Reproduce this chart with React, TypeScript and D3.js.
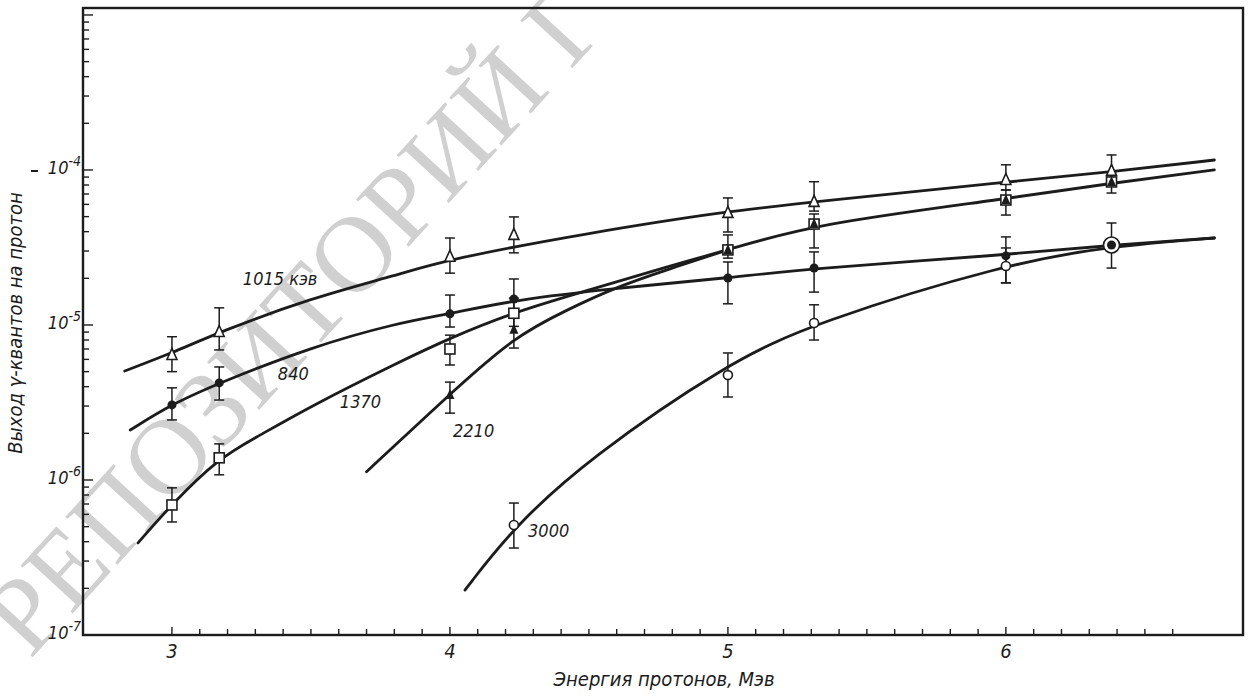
import React, { useEffect, useRef } from "react";
import * as d3 from "d3";

const WIDTH = 1254;
const HEIGHT = 697;

// measured points: proton energy (MeV), yield per proton, error bar ends
const x1015 = [3.0, 3.17, 4.0, 4.23, 5.0, 5.31, 6.0, 6.38];
const y1015 = [6.4e-6, 9.0e-6, 2.75e-5, 3.81e-5, 5.28e-5, 6.22e-5, 8.6e-5, 9.86e-5];
const hi1015 = [8.4e-6, 1.29e-5, 3.64e-5, 4.98e-5, 6.6e-5, 8.4e-5, 1.08e-4, 1.25e-4];
const lo1015 = [5.0e-6, 6.9e-6, 2.16e-5, 2.92e-5, 3.98e-5, 5.43e-5, 7.43e-5, 8.4e-5];

const x840 = [3.0, 3.17, 4.0, 4.23, 5.0, 5.31, 6.0, 6.38];
const y840 = [3.05e-6, 4.23e-6, 1.18e-5, 1.47e-5, 2.01e-5, 2.33e-5, 2.79e-5, 3.28e-5];
const hi840 = [3.93e-6, 5.36e-6, 1.56e-5, 1.98e-5, 2.55e-5, 2.96e-5, 3.7e-5, 4.55e-5];
const lo840 = [2.44e-6, 3.28e-6, 9.7e-6, 1.11e-5, 1.37e-5, 1.63e-5, 1.87e-5, 2.33e-5];

const x1370 = [3.0, 3.17, 4.0, 4.23, 5.0, 5.31, 6.0, 6.38];
const y1370 = [6.9e-7, 1.39e-6, 7.0e-6, 1.19e-5, 3.05e-5, 4.48e-5, 6.4e-5, 8.37e-5];
const hi1370 = [8.9e-7, 1.71e-6, 8.6e-6, 1.49e-5, 3.81e-5, 5.2e-5, 7.43e-5, 9.7e-5];
const lo1370 = [5.36e-7, 1.08e-6, 5.52e-6, 9.8e-6, 2.7e-5, 3.14e-5, 5.12e-5, 7.1e-5];

const x2210 = [4.0, 4.23, 5.0, 5.31, 6.0, 6.38];
const y2210 = [3.53e-6, 9.3e-6, 3.05e-5, 4.48e-5, 6.4e-5, 8.37e-5];
const hi2210 = [4.28e-6, 1.16e-5, null, null, null, null];
const lo2210 = [2.7e-6, 7.1e-6, null, null, null, null];

const x3000 = [4.23, 5.0, 5.31, 6.0, 6.38];
const y3000 = [5.13e-7, 4.75e-6, 1.03e-5, 2.4e-5, 3.28e-5];
const hi3000 = [7.1e-7, 6.6e-6, 1.35e-5, 3.14e-5, null];
const lo3000 = [3.64e-7, 3.43e-6, 8.0e-6, 1.87e-5, null];

// hand-drawn fitted curves
const c1015x = [2.83, 3.0, 3.17, 3.5, 3.81, 4.0, 4.5, 5.0, 5.31, 6.0, 6.38, 6.75];
const c1015y = [5.05e-6, 6.59e-6, 9.0e-6, 1.49e-5, 2.1e-5, 2.67e-5, 3.93e-5, 5.43e-5, 6.22e-5, 8.37e-5, 9.7e-5, 1.16e-4];
const c840x = [2.85, 3.0, 3.17, 3.5, 3.81, 4.0, 4.23, 4.6, 5.0, 5.31, 6.0, 6.38, 6.75];
const c840y = [2.1e-6, 3.09e-6, 4.23e-6, 7.2e-6, 1.03e-5, 1.18e-5, 1.45e-5, 1.73e-5, 2.01e-5, 2.33e-5, 2.83e-5, 3.28e-5, 3.64e-5];
const c1370x = [2.878, 3.0, 3.17, 3.3, 3.5, 3.81, 4.0, 4.23, 4.5, 4.78, 5.0, 5.31, 6.0, 6.38, 6.75];
const c1370y = [3.93e-7, 7.0e-7, 1.39e-6, 1.87e-6, 3.0e-6, 5.69e-6, 8.24e-6, 1.21e-5, 1.68e-5, 2.37e-5, 3.05e-5, 4.48e-5, 6.5e-5, 8.24e-5, 1.0e-4];
const c2210x = [3.7, 4.0, 4.23, 4.42, 4.6, 4.78, 5.0];
const c2210y = [1.13e-6, 3.59e-6, 8.37e-6, 1.25e-5, 1.76e-5, 2.27e-5, 3.05e-5];
const c3000x = [4.054, 4.23, 4.5, 5.0, 5.31, 6.0, 6.38, 6.75];
const c3000y = [1.95e-7, 4.98e-7, 1.38e-6, 5.69e-6, 1.03e-5, 2.48e-5, 3.23e-5, 3.64e-5];

const curveLabels = ["1015 кэв", "840", "1370", "2210", "3000"];
const labelX = [3.255, 3.381, 3.604, 4.011, 4.281];
const labelY = [1.81e-5, 4.4e-6, 2.92e-6, 1.89e-6, 4.28e-7];

const xTickLabels = [3, 4, 5, 6];
const yTickDecades = [-7, -6, -5, -4];

const FONT = "'DejaVu Sans Condensed', 'Liberation Sans Narrow', 'DejaVu Sans', sans-serif";
const INK = "#1c1c1c";

const zip = (xs, ys, lo?, hi?) =>
  xs.map((v, i) => ({ x: v, y: ys[i], lo: lo ? lo[i] : null, hi: hi ? hi[i] : null }));

export default function App() {
  const svgRef = useRef<SVGSVGElement>(null);

  useEffect(() => {
    const svg = d3.select(svgRef.current);
    svg.selectAll("*").remove();

    const left = 83, right = 1243, top = 8, bottom = 635;
    const x = d3.scaleLinear().domain([2.68, 6.853]).range([left, right]);
    const y = d3.scaleLog().domain([1e-7, Math.pow(10, -2.955)]).range([bottom, top]);

    // scan watermark
    svg.append("text")
      .attr("transform", "translate(30,660) rotate(-47.5)")
      .attr("font-family", "'Liberation Serif', 'DejaVu Serif', serif")
      .attr("font-size", 108)
      .attr("fill", "#d0d0d0")
      .text("РЕПОЗИТОРИЙ Г");

    // frame
    svg.append("rect")
      .attr("x", left).attr("y", top)
      .attr("width", right - left).attr("height", bottom - top)
      .attr("fill", "none").attr("stroke", INK).attr("stroke-width", 2.4);

    // x ticks every 0.1 MeV, pointing inward
    const xt = d3.range(30, 67).map(d => d / 10);
    svg.append("g").selectAll("line").data(xt).join("line")
      .attr("x1", d => x(d)).attr("x2", d => x(d))
      .attr("y1", bottom).attr("y2", d => bottom - (Math.abs(d - Math.round(d)) < 1e-6 ? 8 : 6))
      .attr("stroke", INK).attr("stroke-width", 1.4);

    svg.append("g").selectAll("text").data(xTickLabels).join("text")
      .attr("x", d => x(d)).attr("y", 658)
      .attr("text-anchor", "middle")
      .attr("font-family", FONT).attr("font-style", "italic").attr("font-size", 20)
      .attr("fill", INK)
      .text(d => d);

    // y ticks, log decades with 2..9 minors
    const yt = [];
    for (let e = -7; e <= -3; e++) {
      for (let m = 1; m <= 9; m++) {
        const v = m * Math.pow(10, e);
        if (v > 1e-7 && v < y.domain()[1]) yt.push({ v, major: m === 1 });
      }
    }
    svg.append("g").selectAll("line").data(yt).join("line")
      .attr("x1", left).attr("x2", d => left + (d.major ? 10 : 6))
      .attr("y1", d => y(d.v)).attr("y2", d => y(d.v))
      .attr("stroke", INK).attr("stroke-width", 1.4);

    const yl = svg.append("g").selectAll("text").data(yTickDecades).join("text")
      .attr("x", 81).attr("y", d => y(Math.pow(10, d)) + 4)
      .attr("text-anchor", "end")
      .attr("font-family", FONT).attr("font-style", "italic").attr("font-size", 18)
      .attr("fill", INK);
    yl.append("tspan").text("10");
    yl.append("tspan").attr("dy", -8).attr("font-size", 14).text(d => `-${-d}`);

    svg.append("line")
      .attr("x1", 31).attr("x2", 38).attr("y1", y(1e-4) + 1).attr("y2", y(1e-4) + 1)
      .attr("stroke", INK).attr("stroke-width", 2);

    // axis titles
    svg.append("text")
      .attr("transform", "translate(22,323) rotate(-90)")
      .attr("text-anchor", "middle")
      .attr("font-family", FONT).attr("font-style", "italic").attr("font-size", 20)
      .attr("fill", INK)
      .text("Выход γ-квантов на протон");

    svg.append("text")
      .attr("x", 664).attr("y", 686)
      .attr("text-anchor", "middle")
      .attr("font-family", FONT).attr("font-style", "italic").attr("font-size", 20)
      .attr("fill", INK)
      .text("Энергия протонов, Мэв");

    // curves
    const line = d3.line<{ x: number; y: number }>()
      .x(d => x(d.x)).y(d => y(d.y))
      .curve(d3.curveBasis);
    const curves = [
      zip(c1015x, c1015y), zip(c840x, c840y), zip(c1370x, c1370y),
      zip(c2210x, c2210y), zip(c3000x, c3000y),
    ];
    svg.append("g").selectAll("path").data(curves).join("path")
      .attr("d", d => line(d))
      .attr("fill", "none").attr("stroke", INK).attr("stroke-width", 2.8)
      .attr("stroke-linecap", "round");

    // curve labels
    svg.append("g").selectAll("text").data(curveLabels).join("text")
      .attr("x", (d, i) => x(labelX[i])).attr("y", (d, i) => y(labelY[i]))
      .attr("font-family", FONT).attr("font-style", "italic").attr("font-size", 18)
      .attr("fill", INK)
      .text(d => d);

    const p1015 = zip(x1015, y1015, lo1015, hi1015);
    const p840 = zip(x840, y840, lo840, hi840);
    const p1370 = zip(x1370, y1370, lo1370, hi1370);
    const p2210 = zip(x2210, y2210, lo2210, hi2210);
    const p3000 = zip(x3000, y3000, lo3000, hi3000);

    // error bars
    const bars = [...p1015, ...p840, ...p1370, ...p2210, ...p3000].filter(d => d.lo != null);
    const eg = svg.append("g").attr("stroke", INK).attr("stroke-width", 1.5);
    bars.forEach(d => {
      const cx = x(d.x);
      eg.append("line").attr("x1", cx).attr("x2", cx).attr("y1", y(d.lo)).attr("y2", y(d.hi));
      eg.append("line").attr("x1", cx - 5).attr("x2", cx + 5).attr("y1", y(d.lo)).attr("y2", y(d.lo));
      eg.append("line").attr("x1", cx - 5).attr("x2", cx + 5).attr("y1", y(d.hi)).attr("y2", y(d.hi));
    });

    const tri = (w, h) => `M0,${-h * 0.6}L${w / 2},${h * 0.4}L${-w / 2},${h * 0.4}Z`;

    // 3000 keV: open circles (ring where it coincides with 840)
    svg.append("g").selectAll("circle").data(p3000).join("circle")
      .attr("cx", d => x(d.x)).attr("cy", d => y(d.y))
      .attr("r", d => p840.some(q => q.x === d.x && Math.abs(Math.log10(q.y / d.y)) < 0.02) ? 8 : 4.5)
      .attr("fill", "#fff").attr("stroke", INK).attr("stroke-width", 1.6);

    // 840 keV: filled circles
    svg.append("g").selectAll("circle").data(p840).join("circle")
      .attr("cx", d => x(d.x)).attr("cy", d => y(d.y)).attr("r", 4.5)
      .attr("fill", INK);

    // 1370 keV: open squares
    svg.append("g").selectAll("rect").data(p1370).join("rect")
      .attr("x", d => x(d.x) - 5).attr("y", d => y(d.y) - 5)
      .attr("width", 10).attr("height", 10)
      .attr("fill", "#fff").attr("stroke", INK).attr("stroke-width", 1.6);

    // 2210 keV: filled triangles
    svg.append("g").selectAll("path").data(p2210).join("path")
      .attr("transform", d => `translate(${x(d.x)},${y(d.y)})`)
      .attr("d", tri(9, 10))
      .attr("fill", INK);

    // 1015 keV: open triangles
    svg.append("g").selectAll("path").data(p1015).join("path")
      .attr("transform", d => `translate(${x(d.x)},${y(d.y)})`)
      .attr("d", tri(10, 11))
      .attr("fill", "#fff").attr("stroke", INK).attr("stroke-width", 1.6);
  }, []);

  return (
    <svg
      ref={svgRef}
      width={WIDTH}
      height={HEIGHT}
      style={{ position: "absolute", left: 0, top: 0, background: "#fff" }}
    />
  );
}
